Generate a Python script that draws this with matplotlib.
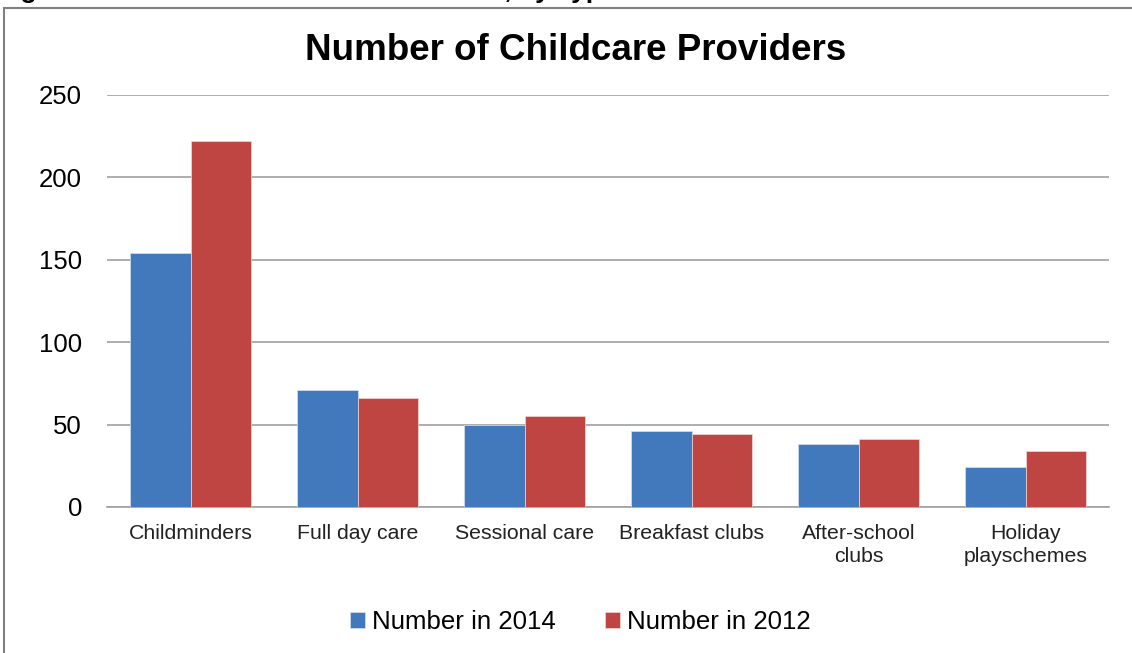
import matplotlib
matplotlib.use("Agg")
import matplotlib.pyplot as plt
import numpy as np
from matplotlib.patches import Rectangle

plt.rcParams['font.family'] = ['Liberation Sans', 'DejaVu Sans']

categories = ["Childminders", "Full day care", "Sessional care", "Breakfast clubs",
              "After-school\nclubs", "Holiday\nplayschemes"]
number_2014 = [154, 71, 50, 46, 38, 24]
number_2012 = [222, 66, 55, 44, 41, 34]
series_names = ["Number in 2014", "Number in 2012"]
yticks = [0, 50, 100, 150, 200, 250]

BLUE = "#4179bc"
RED = "#bf4542"
GRID = "#a0a0a0"

W, H = 1132, 653
fig = plt.figure(figsize=(W / 100, H / 100), dpi=100)

# outer chart border, running off the right and bottom edges
fig.patches.append(Rectangle((4 / W, -0.1), 1.2, (H - 8) / H + 0.1,
                             transform=fig.transFigure, fill=False,
                             edgecolor="#808080", linewidth=1.5))
# caption of the report figure, only its descenders are left on the page
fig.text(-0.003, 1.0 + 2 / H, "Figure 1: Number of Childcare Providers, by Type",
         fontsize=19, fontweight="bold", va="baseline", ha="left")

ax = fig.add_axes([107 / W, (H - 507) / H, (1109 - 107) / W, (507 - 95) / H])

x = np.arange(len(categories))
w = 0.365
ax.bar(x - w / 2, number_2014, w, color=BLUE, edgecolor="#d8e2f0", linewidth=0.5,
       label=series_names[0], zorder=3)
ax.bar(x + w / 2, number_2012, w, color=RED, edgecolor="#f0d8d8", linewidth=0.5,
       label=series_names[1], zorder=3)

ax.set_xlim(-0.5, len(categories) - 0.5)
ax.set_ylim(0, 250)
ax.set_yticks(yticks)
ax.set_xticks(x)
ax.set_xticklabels(categories, fontsize=15.3, color="#222222", linespacing=1.3)
ax.tick_params(axis="y", length=0, pad=18, labelsize=18.5)
ax.tick_params(axis="x", length=0, pad=12)
ax.grid(axis="y", color=GRID, linewidth=1.2, zorder=0)
for side in ["left", "right", "top"]:
    ax.spines[side].set_visible(False)
ax.spines["bottom"].set_color(GRID)
ax.spines["bottom"].set_linewidth(1.2)

fig.text(576 / W, 1 - 51 / H, "Number of Childcare Providers", fontsize=26.5,
         fontweight="bold", ha="center", va="center")

fig.legend(loc="center", bbox_to_anchor=(580 / W, 1 - 622 / H), ncol=2,
           frameon=False, fontsize=18.6, handlelength=0.6, handleheight=0.6,
           handletextpad=0.25, columnspacing=1.9)

fig.savefig("out.png", dpi=100)
